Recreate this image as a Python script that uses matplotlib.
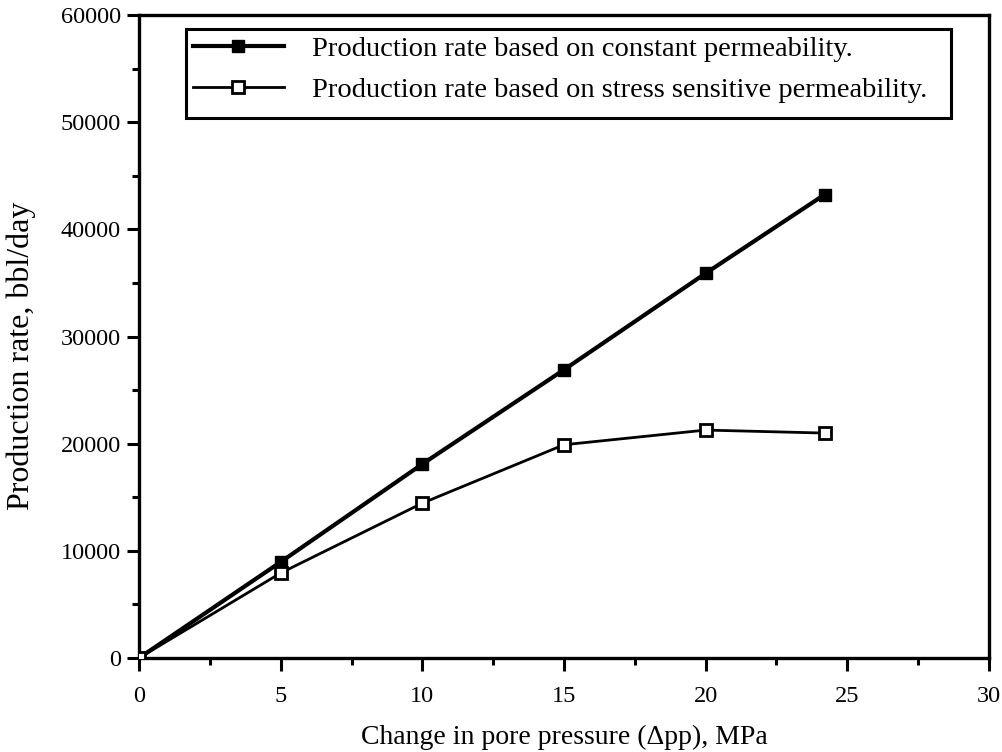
import matplotlib
matplotlib.use("Agg")
import matplotlib.pyplot as plt
from matplotlib.ticker import MultipleLocator
from matplotlib.patches import Rectangle

plt.rcParams['font.family'] = ['Liberation Serif', 'DejaVu Serif']

dpp = [0, 5, 10, 15, 20, 24.2]
rate_constant = [0, 8960, 18100, 26900, 35900, 43250]
rate_stress = [0, 7930, 14450, 19900, 21270, 20990]
label_constant = "Production rate based on constant permeability."
label_stress = "Production rate based on stress sensitive permeability."

fig = plt.figure(figsize=(10.03, 7.52), dpi=100)
ax = fig.add_axes([0.1386, 0.125, 0.8474, 0.855])

ax.plot(dpp, rate_constant, color='black', lw=3.0, marker='s', ms=9,
        mfc='black', mec='black', label=label_constant, zorder=3)
ax.plot(dpp, rate_stress, color='black', lw=2.0, marker='s', ms=9,
        mfc='white', mec='black', mew=2, label=label_stress, zorder=3)

ax.set_xlim(0, 30)
ax.set_ylim(0, 60000)
ax.xaxis.set_major_locator(MultipleLocator(5))
ax.xaxis.set_minor_locator(MultipleLocator(2.5))
ax.yaxis.set_major_locator(MultipleLocator(10000))
ax.yaxis.set_minor_locator(MultipleLocator(5000))
ax.tick_params(axis='both', which='major', direction='out', length=9, width=2.2,
               labelsize=17.5, top=False, right=False)
ax.tick_params(axis='both', which='minor', direction='out', length=5, width=2.2,
               top=False, right=False)
ax.tick_params(axis='x', which='major', pad=11)
ax.tick_params(axis='y', which='major', pad=4)
for s in ax.spines.values():
    s.set_linewidth(2.4)

ax.set_xlabel("Change in pore pressure (\u0394pp), MPa", fontsize=20, labelpad=13)
ax.set_ylabel("Production rate, bbl/day", fontsize=23)
ax.yaxis.set_label_coords(-0.121, 0.47)

# legend frame drawn separately (box taller than entries)
ax.add_patch(Rectangle((0.0553, 0.840), 0.9, 0.138, transform=ax.transAxes,
                       fill=True, facecolor='white', edgecolor='black', lw=2.2,
                       zorder=4))
leg = ax.legend(loc='upper left', bbox_to_anchor=(0.063, 0.968), fontsize=20.5,
                frameon=False, handlelength=3.2, handletextpad=1.0, borderpad=0,
                labelspacing=0.55, borderaxespad=0)
leg.set_zorder(5)

fig.savefig("out.png", dpi=100)
